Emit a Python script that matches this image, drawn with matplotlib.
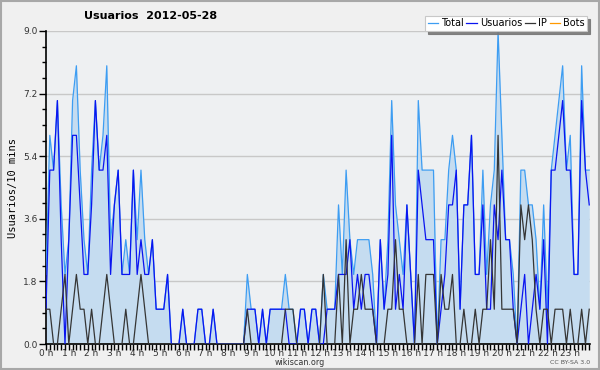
import numpy as np
import matplotlib
matplotlib.use("Agg")
import matplotlib.pyplot as plt
from matplotlib.patches import Rectangle

# one value every 10 minutes, 144 slots for the day
usuarios = [1, 5, 5, 7, 3, 0, 3, 6, 6, 4, 2, 2, 4, 7, 5, 5, 6, 2, 4, 5,
            2, 2, 2, 5, 2, 3, 2, 2, 3, 1, 1, 1, 2, 0, 0, 0, 1, 0, 0, 0,
            1, 1, 0, 0, 1, 0, 0, 0, 0, 0, 0, 0, 0, 1, 1, 1, 0, 1, 0, 1,
            1, 1, 1, 1, 0, 0, 0, 1, 1, 0, 1, 1, 0, 0, 1, 1, 1, 2, 2, 2,
            3, 1, 2, 1, 2, 2, 1, 0, 3, 1, 2, 6, 1, 2, 1, 4, 2, 0, 5, 4,
            3, 3, 3, 0, 1, 2, 4, 4, 5, 1, 4, 4, 6, 2, 2, 4, 1, 1, 4, 3,
            5, 3, 3, 1, 0, 1, 2, 0, 1, 2, 1, 3, 0, 5, 5, 6, 7, 5, 5, 2,
            2, 7, 5, 4]
ip = [1, 1, 0, 0, 1, 2, 0, 1, 2, 1, 1, 0, 1, 0, 0, 1, 2, 1, 0, 0,
      0, 1, 0, 0, 1, 2, 1, 0, 0, 0, 0, 0, 0, 0, 0, 0, 0, 0, 0, 0,
      0, 0, 0, 0, 0, 0, 0, 0, 0, 0, 0, 0, 0, 1, 0, 0, 0, 0, 0, 0,
      0, 0, 0, 1, 1, 1, 0, 0, 0, 0, 0, 0, 0, 2, 0, 0, 0, 2, 0, 3,
      0, 1, 1, 2, 1, 1, 1, 0, 0, 0, 1, 1, 3, 1, 1, 0, 0, 0, 2, 0,
      2, 2, 2, 0, 2, 1, 1, 2, 0, 0, 1, 0, 0, 1, 0, 1, 1, 3, 1, 6,
      1, 1, 1, 1, 0, 4, 3, 4, 3, 1, 0, 1, 1, 0, 1, 1, 1, 0, 1, 0,
      0, 1, 0, 1]
total = [2, 6, 5, 7, 4, 2, 3, 7, 8, 5, 3, 2, 5, 7, 5, 6, 8, 3, 4, 5,
         2, 3, 2, 5, 3, 5, 3, 2, 3, 1, 1, 1, 2, 0, 0, 0, 1, 0, 0, 0,
         1, 1, 0, 0, 1, 0, 0, 0, 0, 0, 0, 0, 0, 2, 1, 1, 0, 1, 0, 1,
         1, 1, 1, 2, 1, 1, 0, 1, 1, 0, 1, 1, 0, 2, 1, 1, 1, 4, 2, 5,
         3, 2, 3, 3, 3, 3, 2, 0, 3, 1, 3, 7, 4, 3, 2, 4, 2, 0, 7, 5,
         5, 5, 5, 0, 3, 3, 5, 6, 5, 1, 4, 4, 6, 2, 2, 5, 2, 4, 5, 9,
         6, 3, 3, 2, 0, 5, 5, 4, 4, 3, 1, 4, 1, 5, 6, 7, 8, 5, 6, 2,
         2, 8, 5, 5]
bots = [0] * 144
hour_labels = ["%d h" % h for h in range(24)]
ytick_vals = [0.0, 1.8, 3.6, 5.4, 7.2, 9.0]

x = np.arange(len(total))

fig = plt.figure(figsize=(6, 3.7), dpi=100, facecolor="#f0f0f0")
ax = fig.add_axes([46 / 600, 26 / 370, 544 / 600, 313 / 370])
ax.set_facecolor("#eef0f2")

# outer grey frame
fig.patches.append(Rectangle((0.0015, 0.0025), 0.997, 0.995, transform=fig.transFigure,
                             fill=False, edgecolor="#a8a8a8", linewidth=1.5))

ax.fill_between(x, total, 0, color="#c5dcf0", linewidth=0, zorder=1)
ax.plot(x, total, color="#3d9df2", lw=0.9, label="Total", zorder=3)
ax.plot(x, usuarios, color="#0a14f0", lw=0.9, label="Usuarios", zorder=4)
ax.plot(x, ip, color="#353535", lw=0.9, label="IP", zorder=5)
ax.plot(x, bots, color="#ff9900", lw=0.9, label="Bots", zorder=2)

ax.set_xlim(0, 143.2)
ax.set_ylim(0, 9.0)
ax.set_yticks(ytick_vals)
ax.set_yticklabels(["%.1f" % v for v in ytick_vals], fontsize=6.5, color="#333333")
ax.set_yticks(np.arange(0, 9.01, 0.45), minor=True)
ax.set_xticks(np.arange(0, 144, 6))
ax.set_xticklabels(hour_labels, fontsize=6.5, color="#333333")
ax.set_xticks(np.arange(0, 144, 1), minor=True)
ax.tick_params(axis="y", which="major", length=5, width=1, pad=1)
ax.tick_params(axis="y", which="minor", length=3, width=1)
ax.tick_params(axis="x", which="both", length=4, width=1, pad=-0.5)

ax.yaxis.grid(True, color="#c8c8c8", linewidth=1)
ax.set_axisbelow(True)
for side in ["top", "right"]:
    ax.spines[side].set_visible(False)
ax.spines["left"].set_linewidth(1.2)
ax.spines["bottom"].set_linewidth(1.2)

ax.set_ylabel("Usuarios/10 mins", fontsize=7.5, family="DejaVu Sans Mono", labelpad=4)

fig.text(151 / 600, 1 - 16 / 370, "Usuarios  2012-05-28", ha="center", va="center",
         fontsize=8, fontweight="bold")
fig.text(300 / 600, 1 - 362.5 / 370, "wikiscan.org", ha="center", va="center",
         fontsize=5.8, color="#333333")
fig.text(590 / 600, 1 - 362.5 / 370, "CC BY-SA 3.0", ha="right", va="center",
         fontsize=4.5, color="#555555")

leg = ax.legend(loc="upper right", ncol=4, fontsize=7, frameon=True, fancybox=False,
                shadow={"color": "#777777", "alpha": 0.9}, handlelength=1.1,
                handletextpad=0.3, columnspacing=0.25,
                borderpad=0.25, borderaxespad=0, bbox_to_anchor=(0.995, 1.048))
leg.get_frame().set_edgecolor("#c8c8c8")
leg.get_frame().set_linewidth(0.8)
leg.set_zorder(10)

fig.savefig("out.png", dpi=100, facecolor=fig.get_facecolor())
